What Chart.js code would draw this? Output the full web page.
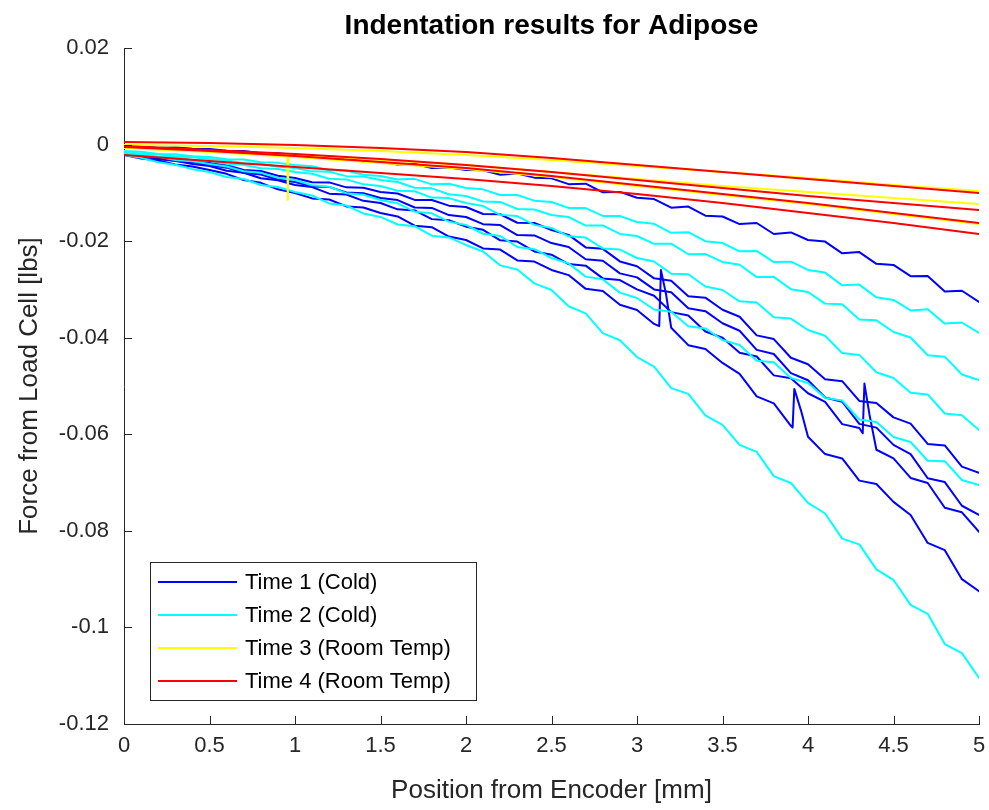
<!DOCTYPE html>
<html><head><meta charset="utf-8">
<script src="https://cdn.jsdelivr.net/npm/chart.js@4.4.1/dist/chart.umd.min.js"></script>
<style>html,body{margin:0;padding:0;background:#fff}canvas{display:block}</style>
</head><body>
<canvas id="c" width="989" height="810"></canvas>
<script>
const chartTitle = 'Indentation results for Adipose';
const xAxisTitle = 'Position from Encoder [mm]';
const yAxisTitle = 'Force from Load Cell [lbs]';
const legendLabels = ['Time 1 (Cold)', 'Time 2 (Cold)', 'Time 3 (Room Temp)', 'Time 4 (Room Temp)'];
const groupColors = ['#0000ff', '#00ffff', '#ffff00', '#ff0000'];
const xTicks = [0, 0.5, 1, 1.5, 2, 2.5, 3, 3.5, 4, 4.5, 5];
const xTickLabels = ['0', '0.5', '1', '1.5', '2', '2.5', '3', '3.5', '4', '4.5', '5'];
const yTicks = [0.02, 0, -0.02, -0.04, -0.06, -0.08, -0.1, -0.12];
const yTickLabels = ['0.02', '0', '-0.02', '-0.04', '-0.06', '-0.08', '-0.1', '-0.12'];

// positions [mm]
const coldPositions = [0,0.1,0.2,0.3,0.4,0.5,0.6,0.7,0.8,0.9,1,1.1,1.2,1.3,1.4,1.5,1.6,1.7,1.8,1.9,2,2.1,2.2,2.3,2.4,2.5,2.6,2.7,2.8,2.9,3,3.1,3.2,3.3,3.4,3.5,3.6,3.7,3.8,3.9,4,4.1,4.2,4.3,4.4,4.5,4.6,4.7,4.8,4.9,5];
const warmPositions = [0,0.5,1,1.5,2,2.5,3,3.5,4,4.5,5];

// Time 1 (Cold) force [lbs]
const time1Run1 = [-0.00029,-0.00036,-0.00064,-0.00058,-0.00084,-0.00091,-0.00126,-0.00131,-0.00177,-0.0018,-0.00215,-0.00224,-0.00288,-0.00282,-0.00351,-0.0036,-0.00413,-0.00401,-0.00485,-0.00473,-0.00526,-0.00531,-0.00626,-0.006,-0.00685,-0.007,-0.0082,-0.0081,-0.0099,-0.0098,-0.011,-0.01128,-0.01306,-0.01284,-0.01472,-0.0149,-0.01647,-0.01624,-0.01852,-0.01819,-0.01976,-0.02009,-0.02253,-0.02226,-0.0247,-0.02493,-0.02726,-0.0272,-0.03043,-0.03027,-0.0326];
const time1Run2 = [-0.00174,-0.00205,-0.00272,-0.00288,-0.0035,-0.00381,-0.00428,-0.00525,-0.00548,-0.00645,-0.00692,-0.0078,-0.00783,-0.00886,-0.00894,-0.00982,-0.01014,-0.01146,-0.01148,-0.01265,-0.01292,-0.01438,-0.01443,-0.01619,-0.01624,-0.0177,-0.0187,-0.0213,-0.0216,-0.0242,-0.0252,-0.0277,-0.0282,-0.0314,-0.0317,-0.0342,-0.03566,-0.03952,-0.04028,-0.04414,-0.0455,-0.0486,-0.049,-0.0531,-0.0535,-0.0565,-0.0578,-0.062,-0.0623,-0.0667,-0.068];
const time1Run3 = [-0.00195,-0.0025,-0.00274,-0.00341,-0.00367,-0.00422,-0.00478,-0.00583,-0.00619,-0.00724,-0.00775,-0.00866,-0.00877,-0.00994,-0.0101,-0.01106,-0.0115,-0.01304,-0.01312,-0.01461,-0.015,-0.01648,-0.01666,-0.01874,-0.01882,-0.0204,-0.02122,-0.02374,-0.02406,-0.02668,-0.0275,-0.03,-0.0306,-0.0339,-0.0345,-0.037,-0.03856,-0.04252,-0.04338,-0.04734,-0.0488,-0.05238,-0.05326,-0.05784,-0.05862,-0.0622,-0.0641,-0.0691,-0.0699,-0.0748,-0.0767];
const time1Run4 = [-0.00195,-0.00237,-0.00306,-0.00334,-0.00403,-0.00443,-0.00542,-0.00585,-0.00699,-0.00738,-0.00837,-0.00881,-0.01016,-0.01035,-0.01165,-0.01209,-0.01342,-0.01365,-0.01544,-0.01567,-0.017,-0.01766,-0.01982,-0.02008,-0.02214,-0.0228,-0.02474,-0.02508,-0.02772,-0.02806,-0.03,-0.0313,-0.0347,-0.0354,-0.0387,-0.04,-0.0431,-0.0439,-0.0478,-0.0484,-0.0515,-0.0533,-0.0579,-0.0587,-0.0632,-0.065,-0.06904,-0.07008,-0.07522,-0.07616,-0.0802];
const time1Run5 = [-0.00215,-0.00287,-0.00329,-0.00414,-0.00452,-0.00526,-0.00606,-0.00736,-0.00792,-0.00927,-0.01002,-0.01115,-0.01138,-0.01281,-0.01304,-0.01417,-0.01489,-0.01681,-0.01712,-0.01904,-0.01976,-0.0215,-0.02174,-0.02399,-0.02423,-0.02597,-0.02703,-0.02988,-0.03034,-0.03319,-0.03425,-0.03715,-0.03794,-0.04154,-0.04233,-0.04523,-0.04748,-0.05214,-0.05359,-0.05825,-0.0605,-0.0641,-0.065,-0.0696,-0.0703,-0.074,-0.0767,-0.0825,-0.084,-0.09,-0.0925];

// Time 2 (Cold) force [lbs]
const time2Run1 = [-0.00133,-0.0015,-0.00193,-0.00199,-0.0024,-0.00257,-0.00302,-0.00311,-0.00368,-0.00379,-0.00422,-0.00448,-0.00533,-0.00539,-0.00624,-0.0065,-0.00725,-0.0071,-0.00824,-0.0081,-0.00899,-0.00927,-0.01045,-0.01043,-0.01161,-0.01189,-0.01312,-0.01315,-0.01477,-0.0148,-0.01603,-0.0164,-0.01827,-0.01814,-0.02001,-0.02038,-0.0221,-0.02202,-0.02433,-0.02425,-0.02597,-0.02651,-0.02915,-0.029,-0.03164,-0.03218,-0.03435,-0.03412,-0.03708,-0.03685,-0.03902];
const time2Run2 = [-0.00153,-0.0019,-0.00201,-0.00248,-0.00261,-0.00298,-0.00323,-0.00385,-0.00398,-0.0046,-0.00485,-0.00555,-0.00564,-0.00654,-0.00663,-0.00733,-0.00774,-0.00895,-0.00907,-0.01028,-0.01064,-0.01178,-0.01187,-0.01335,-0.01344,-0.01458,-0.015,-0.01677,-0.01674,-0.01851,-0.01893,-0.02056,-0.02053,-0.02271,-0.02268,-0.02431,-0.0249,-0.02745,-0.02739,-0.02994,-0.03053,-0.03294,-0.03309,-0.03625,-0.0364,-0.03881,-0.03995,-0.04364,-0.04392,-0.04761,-0.04875];
const time2Run3 = [-0.00174,-0.00197,-0.0025,-0.00264,-0.00317,-0.0034,-0.004,-0.00416,-0.00491,-0.00507,-0.00567,-0.00605,-0.00708,-0.00721,-0.00824,-0.00857,-0.00957,-0.00968,-0.01098,-0.01109,-0.01209,-0.01273,-0.01456,-0.0148,-0.01663,-0.01727,-0.01901,-0.01926,-0.0215,-0.02175,-0.02349,-0.02421,-0.02674,-0.02686,-0.02939,-0.03011,-0.03247,-0.03273,-0.03578,-0.03604,-0.0384,-0.03959,-0.04318,-0.04356,-0.04715,-0.04834,-0.05139,-0.05175,-0.0557,-0.05606,-0.05911];
const time2Run4 = [-0.00174,-0.0023,-0.00255,-0.00321,-0.00346,-0.00402,-0.00453,-0.00554,-0.00586,-0.00687,-0.00733,-0.00841,-0.00874,-0.01006,-0.01039,-0.01147,-0.01216,-0.01389,-0.01423,-0.01596,-0.01665,-0.01847,-0.01894,-0.0212,-0.02167,-0.02349,-0.0246,-0.02735,-0.02791,-0.03066,-0.03177,-0.03416,-0.0346,-0.03764,-0.03808,-0.04047,-0.0415,-0.04478,-0.04506,-0.04834,-0.04937,-0.05246,-0.053,-0.05693,-0.05747,-0.06056,-0.0616,-0.06549,-0.06557,-0.06946,-0.0705];
const time2Run5 = [-0.00215,-0.00275,-0.00368,-0.00416,-0.00509,-0.00567,-0.0067,-0.00713,-0.00836,-0.00879,-0.00982,-0.01055,-0.01219,-0.01262,-0.01426,-0.01499,-0.01655,-0.01691,-0.01887,-0.01923,-0.02079,-0.02215,-0.02502,-0.02588,-0.02875,-0.03011,-0.03349,-0.03497,-0.03904,-0.04052,-0.044,-0.04601,-0.05043,-0.05164,-0.05606,-0.05807,-0.0622,-0.06363,-0.06866,-0.07009,-0.07422,-0.07641,-0.0816,-0.08279,-0.08798,-0.09017,-0.09533,-0.09719,-0.10345,-0.10531,-0.11047];

// Time 3 (Room Temp) force [lbs]
const time3Run1 = [-0.00008,-0.00029,-0.0007,-0.00133,-0.00215,-0.00319,-0.00443,-0.00567,-0.00692,-0.00837,-0.00961];
const time3Run2 = [-0.0007,-0.00133,-0.00215,-0.00319,-0.00422,-0.00567,-0.00712,-0.00857,-0.00982,-0.01106,-0.0123];
const time3Run3 = [-0.0007,-0.00153,-0.00257,-0.00381,-0.00505,-0.00671,-0.00857,-0.01044,-0.0123,-0.01437,-0.01644];

// Time 4 (Room Temp) force [lbs]
const time4Run1 = [0.00054,0.00033,-0.00008,-0.0007,-0.00153,-0.00278,-0.00422,-0.00567,-0.00712,-0.00857,-0.01002];
const time4Run2 = [-0.00029,-0.00112,-0.00195,-0.00298,-0.00422,-0.00567,-0.00733,-0.00899,-0.01064,-0.01209,-0.01355];
const time4Run3 = [-0.0005,-0.00133,-0.00236,-0.0036,-0.00485,-0.0065,-0.00837,-0.01023,-0.01209,-0.01417,-0.01624];
const time4Run4 = [-0.00215,-0.0034,-0.00464,-0.00588,-0.00712,-0.00857,-0.01023,-0.01209,-0.01417,-0.01624,-0.01851];

// sudden jumps in the recordings: [position, force]
const time1Run4Jumps = [[4.32,-0.0598],[4.33,-0.0495],[4.36,-0.056]];
const time1Run5Jumps = [[3.13,-0.0376],[3.14,-0.026],[3.17,-0.031],[3.91,-0.0586],[3.92,-0.0506],[3.96,-0.0552]];
const time3Run3Jumps = [[0.955,-0.00248],[0.958,-0.0115],[0.962,-0.0025]];

function buildPoints(xs, ys, jumps) {
  const pts = xs.map((x, i) => ({x: x, y: ys[i]}));
  (jumps || []).forEach(j => pts.push({x: j[0], y: j[1]}));
  pts.sort((a, b) => a.x - b.x);
  return pts;
}

const groups = [
  {runs: [[time1Run1], [time1Run2], [time1Run3], [time1Run4, time1Run4Jumps], [time1Run5, time1Run5Jumps]], xs: coldPositions, order: 4},
  {runs: [[time2Run1], [time2Run2], [time2Run3], [time2Run4], [time2Run5]], xs: coldPositions, order: 3},
  {runs: [[time3Run1], [time3Run2], [time3Run3, time3Run3Jumps]], xs: warmPositions, order: 2},
  {runs: [[time4Run1], [time4Run2], [time4Run3], [time4Run4]], xs: warmPositions, order: 1}
];

const datasets = [];
groups.forEach((g, gi) => {
  g.runs.forEach((r, ri) => {
    datasets.push({
      label: legendLabels[gi],
      legendGroup: gi,
      legendFirst: ri === 0,
      data: buildPoints(g.xs, r[0], r[1]),
      borderColor: groupColors[gi],
      backgroundColor: groupColors[gi],
      borderWidth: 2,
      pointRadius: 0,
      tension: 0,
      fill: false,
      order: g.order
    });
  });
});

const AXIS_COLOR = '#262626';
const FONT = '"Liberation Sans", Arial, Helvetica, sans-serif';

const decorPlugin = {
  id: 'decor',
  beforeDraw(chart) {
    const ctx = chart.ctx;
    ctx.save();
    ctx.fillStyle = '#ffffff';
    ctx.fillRect(0, 0, chart.width, chart.height);
    ctx.restore();
  },
  afterDraw(chart) {
    const ctx = chart.ctx;
    const a = chart.chartArea;
    const xs = chart.scales.x, ys = chart.scales.y;
    ctx.save();
    // inward tick marks
    ctx.strokeStyle = AXIS_COLOR;
    ctx.lineWidth = 1;
    ctx.beginPath();
    xTicks.forEach(v => {
      const px = Math.round(xs.getPixelForValue(v)) + 0.5;
      ctx.moveTo(px, a.bottom);
      ctx.lineTo(px, a.bottom - 8);
    });
    yTicks.forEach(v => {
      const py = Math.round(ys.getPixelForValue(v)) + 0.5;
      ctx.moveTo(a.left, py);
      ctx.lineTo(a.left + 8, py);
    });
    ctx.stroke();
    // title
    ctx.fillStyle = '#000000';
    ctx.font = 'bold 28px ' + FONT;
    ctx.textAlign = 'center';
    ctx.textBaseline = 'middle';
    ctx.fillText(chartTitle, (a.left + a.right) / 2, 26);
    // legend box
    const bx = a.left + 26, by = a.bottom - 162, bw = 326, bh = 138;
    ctx.fillStyle = '#ffffff';
    ctx.fillRect(bx, by, bw, bh);
    ctx.strokeStyle = AXIS_COLOR;
    ctx.lineWidth = 1;
    ctx.strokeRect(Math.round(bx) + 0.5, Math.round(by) + 0.5, bw, bh);
    ctx.font = '22px ' + FONT;
    ctx.textAlign = 'left';
    ctx.textBaseline = 'middle';
    legendLabels.forEach((lab, i) => {
      const ds = chart.data.datasets.find(d => d.legendGroup === i && d.legendFirst);
      const ry = by + 20 + i * 33;
      ctx.strokeStyle = ds.borderColor;
      ctx.lineWidth = 2;
      ctx.beginPath();
      ctx.moveTo(bx + 8, ry);
      ctx.lineTo(bx + 87, ry);
      ctx.stroke();
      ctx.fillStyle = '#000000';
      ctx.fillText(lab, bx + 95, ry + 1);
    });
    ctx.restore();
  }
};

new Chart(document.getElementById('c'), {
  type: 'line',
  data: {datasets: datasets},
  plugins: [decorPlugin],
  options: {
    responsive: false,
    devicePixelRatio: 1,
    animation: false,
    layout: {padding: {top: 48, right: 10, left: 0, bottom: 0}},
    plugins: {legend: {display: false}, title: {display: false}, tooltip: {enabled: false}},
    elements: {line: {borderJoinStyle: 'round', borderCapStyle: 'round'}},
    scales: {
      x: {
        type: 'linear', min: 0, max: 5,
        afterBuildTicks: s => { s.ticks = xTicks.map(v => ({value: v})); },
        afterFit: s => { s.height = 86; s.paddingRight = 0; s.paddingLeft = 0; },
        grid: {display: false, drawTicks: false},
        border: {display: true, color: AXIS_COLOR, width: 1},
        ticks: {
          autoSkip: false, maxRotation: 0, padding: 9, color: AXIS_COLOR,
          font: {family: FONT, size: 22},
          callback: (v, i) => xTickLabels[i]
        },
        title: {display: true, text: xAxisTitle, color: AXIS_COLOR, font: {family: FONT, size: 26}, padding: {top: 0, bottom: 4}}
      },
      y: {
        type: 'linear', min: -0.12, max: 0.02,
        afterBuildTicks: s => { s.ticks = yTicks.map(v => ({value: v})); },
        afterFit: s => { s.width = 124; s.paddingTop = 0; s.paddingBottom = 0; },
        grid: {display: false, drawTicks: false},
        border: {display: true, color: AXIS_COLOR, width: 1},
        ticks: {
          autoSkip: false, padding: 15, color: AXIS_COLOR,
          font: {family: FONT, size: 22},
          callback: (v, i) => yTickLabels[i]
        },
        title: {display: true, text: yAxisTitle, color: AXIS_COLOR, font: {family: FONT, size: 26}, padding: {top: 14, bottom: 0}}
      }
    }
  }
});
</script>
</body></html>
